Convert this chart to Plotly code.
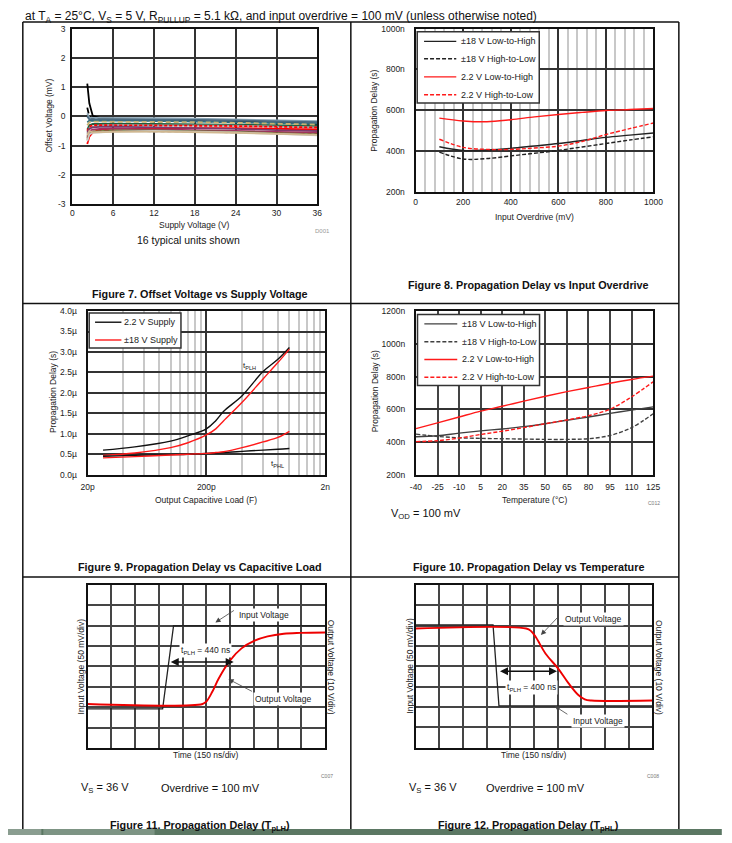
import plotly.graph_objects as go

# The page body keeps an 8 px margin, so the figure is sized to fit inside it;
# reference-pixel coordinates are converted into figure coordinates below.
PAGE_MARGIN = 8
W, H = 732 - 2 * PAGE_MARGIN, 843 - 2 * PAGE_MARGIN
def px(x): return (x - PAGE_MARGIN) / W
def py(y): return 1 - (y - PAGE_MARGIN) / H

FONT = "Liberation Sans, Arial, sans-serif"

# ---------------- Figure 7 data: offset voltage vs supply voltage (16 units)
supply_v = [2.2, 2.5, 3, 4, 6, 12, 18, 24, 30, 36]
unit01 = [1.12, 0.45, 0.02, -0.05, -0.08, -0.10, -0.12, -0.15, -0.18, -0.22]
unit02 = [0.30, 0.00, -0.08, -0.10, -0.12, -0.14, -0.16, -0.18, -0.22, -0.26]
unit03 = [0.10, -0.05, -0.05, -0.05, -0.05, -0.06, -0.08, -0.10, -0.13, -0.16]
unit04 = [-0.20, -0.15, -0.15, -0.14, -0.14, -0.15, -0.17, -0.20, -0.22, -0.25]
unit05 = [-0.45, -0.30, -0.26, -0.25, -0.25, -0.26, -0.27, -0.28, -0.30, -0.33]
unit06 = [-0.30, -0.20, -0.18, -0.18, -0.18, -0.19, -0.20, -0.22, -0.25, -0.28]
unit07 = [-0.60, -0.40, -0.35, -0.32, -0.30, -0.30, -0.30, -0.32, -0.35, -0.38]
unit08 = [-0.95, -0.70, -0.55, -0.45, -0.42, -0.40, -0.40, -0.40, -0.42, -0.45]
unit09 = [-0.50, -0.35, -0.30, -0.30, -0.30, -0.30, -0.32, -0.33, -0.35, -0.38]
unit10 = [-0.55, -0.42, -0.38, -0.36, -0.35, -0.37, -0.40, -0.43, -0.47, -0.50]
unit11 = [-0.70, -0.50, -0.45, -0.43, -0.42, -0.44, -0.47, -0.50, -0.53, -0.56]
unit12 = [-0.80, -0.60, -0.52, -0.50, -0.48, -0.48, -0.50, -0.53, -0.57, -0.62]
unit13 = [-0.75, -0.58, -0.52, -0.50, -0.50, -0.50, -0.52, -0.55, -0.58, -0.60]
unit14 = [-0.85, -0.62, -0.56, -0.54, -0.52, -0.50, -0.52, -0.55, -0.60, -0.65]
unit15 = [-0.65, -0.50, -0.55, -0.55, -0.53, -0.52, -0.53, -0.56, -0.60, -0.63]
unit16 = [0.00, -0.10, -0.10, -0.10, -0.10, -0.11, -0.12, -0.14, -0.17, -0.20]
units = [unit01, unit02, unit03, unit04, unit05, unit06, unit07, unit08,
         unit09, unit10, unit11, unit12, unit13, unit14, unit15, unit16]
unit_colors = ["#000000", "#000000", "#8aa4b4", "#2e6e7e", "#1e6040", "#c8b070",
               "#a0a0a0", "#ff0000", "#ff0000", "#7b3b6b", "#a03060", "#6b7b3b",
               "#8b5a3b", "#c8c8c8", "#d0b890", "#4a6a80"]
unit_dash = ["solid", "6px,3px", "solid", "solid", "solid", "5px,3px", "solid", "solid",
             "3px,2px", "solid", "solid", "solid", "4px,3px", "solid", "solid", "solid"]
f7_xticks = [0, 6, 12, 18, 24, 30, 36]
f7_yticks = [-3, -2, -1, 0, 1, 2, 3]

# ---------------- Figure 8 data: propagation delay vs input overdrive (ns)
overdrive_mv = [100, 200, 300, 400, 500, 600, 700, 800, 900, 1000]
od_18_lh = [420, 402, 404, 412, 424, 436, 451, 466, 477, 488]
od_18_hl = [394, 360, 362, 375, 388, 402, 419, 436, 453, 469]
od_22_lh = [561, 547, 543, 553, 567, 579, 589, 598, 603, 608]
od_22_hl = [457, 417, 407, 407, 414, 423, 446, 480, 509, 537]
f8_xticks = [0, 200, 400, 600, 800, 1000]
f8_yticks = [200, 400, 600, 800, 1000]

# ---------------- Figure 9 data: propagation delay vs capacitive load (us)
cap_load_f = [27e-12, 50e-12, 100e-12, 140e-12, 200e-12, 240e-12, 280e-12,
              400e-12, 600e-12, 800e-12, 1e-9]
cap_22_plh = [0.60, 0.68, 0.82, 0.95, 1.12, 1.32, 1.55, 1.93, 2.52, 2.82, 3.11]
cap_18_plh = [0.47, 0.53, 0.66, 0.78, 0.97, 1.12, 1.32, 1.77, 2.34, 2.74, 3.07]
cap_22_phl = [0.45, 0.47, 0.49, 0.50, 0.52, 0.53, 0.54, 0.57, 0.60, 0.62, 0.64]
cap_18_phl = [0.41, 0.44, 0.48, 0.50, 0.52, 0.54, 0.56, 0.66, 0.80, 0.91, 1.06]
f9_xticks = [2e-11, 2e-10, 2e-9]
f9_xlabels = ["20p", "200p", "2n"]
f9_yticks = [0, 0.5, 1.0, 1.5, 2.0, 2.5, 3.0, 3.5, 4.0]

# ---------------- Figure 10 data: propagation delay vs temperature (ns)
temp_c = [-40, -25, -10, 5, 20, 35, 50, 65, 80, 95, 110, 125]
t_18_lh = [432, 438, 454, 468, 480, 494, 512, 533, 553, 575, 595, 615]
t_18_hl = [448, 434, 426, 422, 420, 418, 416, 416, 420, 440, 488, 573]
t_22_lh = [482, 517, 553, 589, 619, 650, 680, 708, 734, 760, 783, 803]
t_22_hl = [402, 408, 424, 446, 466, 488, 512, 535, 561, 601, 676, 769]
f10_yticks = [200, 400, 600, 800, 1000, 1200]

# ---------------- Figure 11 data (scope divisions)
f11_in_t = [0, 3.16, 3.62, 10]
f11_in_v = [1.92, 1.92, 6.0, 6.0]
f11_out_t = [0, 4.84, 5.0, 5.25, 5.52, 6.0, 6.48, 7.03, 7.58, 8.26, 8.95, 10]
f11_out_v = [2.16, 2.16, 2.28, 2.76, 3.41, 4.30, 4.89, 5.27, 5.48, 5.61, 5.65, 5.67]

# ---------------- Figure 12 data (scope divisions)
f12_in_t = [0, 3.27, 3.52, 10]
f12_in_v = [6.04, 6.04, 2.06, 2.06]
f12_out_t = [0, 4.67, 4.88, 5.08, 5.49, 6.02, 6.46, 6.87, 7.14, 7.42, 10]
f12_out_v = [5.86, 5.86, 5.73, 5.43, 4.62, 3.89, 3.16, 2.59, 2.38, 2.32, 2.32]

legend_names = ["±18 V Low-to-High", "±18 V High-to-Low", "2.2 V Low-to-High", "2.2 V High-to-Low"]
cap_legend_names = ["2.2 V Supply", "±18 V Supply"]

BLK8, BLK10, RED = "#222222", "#404040", "#ff1a1a"
DASH = "4px,2px"
styles_8 = [(BLK8, "solid"), (BLK8, DASH), (RED, "solid"), (RED, DASH)]
styles_10 = [(BLK10, "solid"), (BLK10, DASH), (RED, "solid"), (RED, DASH)]
styles_9 = [("#111111", "solid"), (RED, "solid")]

fig = go.Figure()

# Fig 7 traces
for vals, col, dsh in zip(units, unit_colors, unit_dash):
    fig.add_trace(go.Scatter(x=supply_v, y=vals, mode="lines", xaxis="x", yaxis="y",
                             line=dict(color=col, width=1.8, dash=dsh), showlegend=False))

# Fig 8 traces
for vals, (col, dsh), nm in zip([od_18_lh, od_18_hl, od_22_lh, od_22_hl], styles_8, legend_names):
    fig.add_trace(go.Scatter(x=overdrive_mv, y=vals, mode="lines", name=nm, xaxis="x2", yaxis="y2",
                             line=dict(color=col, width=1.4, dash=dsh, shape="spline"), showlegend=False))

# Fig 9 traces
for vals, (col, dsh), nm in zip([cap_22_plh, cap_18_plh, cap_22_phl, cap_18_phl],
                                styles_9 + styles_9, cap_legend_names + cap_legend_names):
    fig.add_trace(go.Scatter(x=cap_load_f, y=vals, mode="lines", name=nm, xaxis="x3", yaxis="y3",
                             line=dict(color=col, width=1.4, shape="spline"), showlegend=False))

# Fig 10 traces
for vals, (col, dsh), nm in zip([t_18_lh, t_18_hl, t_22_lh, t_22_hl], styles_10, legend_names):
    fig.add_trace(go.Scatter(x=temp_c, y=vals, mode="lines", name=nm, xaxis="x4", yaxis="y4",
                             line=dict(color=col, width=1.4, dash=dsh, shape="spline"), showlegend=False))

# Fig 11 traces
fig.add_trace(go.Scatter(x=f11_in_t, y=f11_in_v, mode="lines", xaxis="x5", yaxis="y5", showlegend=False,
                         line=dict(color="#222222", width=1.3)))
fig.add_trace(go.Scatter(x=f11_out_t, y=f11_out_v, mode="lines", xaxis="x5", yaxis="y5", showlegend=False,
                         line=dict(color="#ee0000", width=1.9, shape="spline")))
# Fig 12 traces
fig.add_trace(go.Scatter(x=f12_in_t, y=f12_in_v, mode="lines", xaxis="x6", yaxis="y6", showlegend=False,
                         line=dict(color="#222222", width=1.3)))
fig.add_trace(go.Scatter(x=f12_out_t, y=f12_out_v, mode="lines", xaxis="x6", yaxis="y6", showlegend=False,
                         line=dict(color="#ee0000", width=1.9, shape="spline")))

TICKF = dict(family=FONT, size=8.5, color="#222")

def axis(dom, **kw):
    d = dict(domain=dom, showline=True, mirror=True, linecolor="#111", linewidth=2,
             showgrid=True, gridcolor="#333", gridwidth=1.5, zeroline=False, ticks="",
             tickfont=TICKF, fixedrange=True)
    d.update(kw)
    return d

def xd(a, b): return [px(a), px(b)]
def yd(top, bot): return [py(bot), py(top)]

SCOPE_GRID = "#454545"
layout = dict(
    width=W, height=H, margin=dict(l=0, r=0, t=0, b=0),
    paper_bgcolor="white", plot_bgcolor="white", showlegend=False,
    font=dict(family=FONT, color="#222"),
    # Fig 7
    xaxis=axis(xd(66.7, 317.7), anchor="y", range=[0, 36], tickvals=f7_xticks,
               ticktext=[str(v) for v in f7_xticks], ticklabelstandoff=0),
    yaxis=axis(yd(24, 201.3), anchor="x", range=[-3, 3], tickvals=f7_yticks,
               ticktext=[str(v) for v in f7_yticks], ticklabelstandoff=3),
    # Fig 8
    xaxis2=axis(xd(418.3, 662), anchor="y2", range=[0, 1000], tickvals=f8_xticks,
                ticktext=[str(v) for v in f8_xticks], ticklabelstandoff=1,
                minor=dict(tickvals=[v for v in range(40, 1000, 40) if v % 200],
                           showgrid=True, gridcolor="#c8c8c8", gridwidth=1.5)),
    yaxis2=axis(yd(24, 188.7), anchor="x2", range=[200, 1000], tickvals=f8_yticks,
                ticktext=["%dn" % v for v in f8_yticks], ticklabelstandoff=7),
    # Fig 9
    xaxis3=axis(xd(82.3, 325.7), anchor="y3", type="log", range=[-10.69897, -8.69897],
                tickvals=f9_xticks, ticktext=f9_xlabels, ticklabelstandoff=3,
                minor=dict(tickvals=[4e-11, 6e-11, 8e-11, 1e-10, 1.2e-10, 1.4e-10, 1.6e-10, 1.8e-10,
                                     4e-10, 6e-10, 8e-10, 1e-9, 1.2e-9, 1.4e-9, 1.6e-9, 1.8e-9],
                           showgrid=True, gridcolor="#c8c8c8", gridwidth=1.5)),
    yaxis3=axis(yd(309.7, 475.3), anchor="x3", range=[0, 4], tickvals=f9_yticks,
                ticktext=["%.1fµ" % v for v in f9_yticks], ticklabelstandoff=7),
    # Fig 10
    xaxis4=axis(xd(418.7, 661.7), anchor="y4", range=[-40, 125], tickvals=temp_c,
                ticktext=[str(v) for v in temp_c], ticklabelstandoff=3, gridcolor="#444"),
    yaxis4=axis(yd(310, 475.3), anchor="x4", range=[200, 1200], tickvals=f10_yticks,
                ticktext=["%dn" % v for v in f10_yticks], ticklabelstandoff=7),
    # Fig 11
    xaxis5=axis(xd(82.3, 325.7), anchor="y5", range=[0, 10], dtick=1, tick0=0, showticklabels=False,
                gridcolor=SCOPE_GRID),
    yaxis5=axis(yd(587, 752), anchor="x5", range=[0, 8], dtick=1, tick0=0, showticklabels=False,
                gridcolor=SCOPE_GRID),
    # Fig 12
    xaxis6=axis(xd(418.3, 661), anchor="y6", range=[0, 10], dtick=1, tick0=0, showticklabels=False,
                gridcolor=SCOPE_GRID),
    yaxis6=axis(yd(587, 751.7), anchor="x6", range=[0, 8], dtick=1, tick0=0, showticklabels=False,
                gridcolor=SCOPE_GRID),
)
fig.update_layout(**layout)

ann = []
shapes = []

def txt(x, y, s, size=8.5, color="#222", bold=False, angle=0, xanchor="center", bg=None):
    d = dict(x=px(x), y=py(y), xref="paper", yref="paper", text=("<b>%s</b>" % s) if bold else s,
             showarrow=False, xanchor=xanchor, yanchor="middle", textangle=angle,
             font=dict(family=FONT, size=size, color=color))
    if bg:
        d["bgcolor"] = bg
        d["borderpad"] = 1
    ann.append(d)

def line(x0, y0, x1, y1, w=1.5, c="#111", dash="solid"):
    shapes.append(dict(type="line", xref="paper", yref="paper", x0=px(x0), y0=py(y0), x1=px(x1), y1=py(y1),
                       line=dict(color=c, width=w, dash=dash), layer="above"))

def rect(x0, y0, x1, y1, c, border=None):
    shapes.append(dict(type="rect", xref="paper", yref="paper", x0=px(x0), y0=py(y0), x1=px(x1), y1=py(y1),
                       line=dict(width=1.5 if border else 0, color=border or c), fillcolor=c, layer="above"))

# legend boxes (drawn as page furniture: box, key line, label)
def legend_box(box, rows, key_x, text_x, names, styles):
    x0, y0, x1, y1 = box
    rect(x0, y0, x1, y1, "white", border="#333")
    for yr, nm, (col, dsh) in zip(rows, names, styles):
        line(key_x[0], yr, key_x[1], yr, w=1.4, c=col, dash=dsh)
        txt(text_x, yr, nm, size=9, xanchor="left")

legend_box((420, 27, 545, 99), [36.7, 54.3, 72.7, 90.7], (427, 460), 463, legend_names, styles_8)
legend_box((84, 311.7, 178, 347), [321, 339], (90, 117), 118, cap_legend_names, styles_9)
legend_box((420.3, 313.3, 545.3, 385), [322.7, 340.7, 358.7, 376.7], (427.3, 461), 463.5,
           legend_names, styles_10)

# header
txt(16, 12.2, "at T<sub>A</sub> = 25°C, V<sub>S</sub> = 5 V, R<sub>PULLUP</sub> = 5.1 kΩ, and input overdrive = 100 mV (unless otherwise noted)",
    size=12, color="#111", xanchor="left")
CAP = 10.8
# Fig 7 texts
txt(192, 223, "Supply Voltage (V)")
txt(42.7, 112, "Offset Voltage (mV)", angle=-90)
txt(323, 229, "D001", size=6, color="#999")
txt(186, 238, "16 typical units shown", size=10.5, color="#111")
txt(197.5, 292, "Figure 7. Offset Voltage vs Supply Voltage", size=CAP, bold=True, color="#111")
# Fig 8
txt(540, 214.7, "Input Overdrive (mV)")
txt(375.7, 107, "Propagation Delay (s)", angle=-90)
txt(533.5, 283, "Figure 8. Propagation Delay vs Input Overdrive", size=CAP, bold=True, color="#111")
# Fig 9
txt(203.5, 501, "Output Capacitive Load (F)")
txt(47.7, 392, "Propagation Delay (s)", angle=-90)
txt(248, 365, "t<sub>PLH</sub>", size=8)
txt(277, 465, "t<sub>PHL</sub>", size=8)
txt(197.8, 569, "Figure 9. Propagation Delay vs Capacitive Load", size=CAP, bold=True, color="#111")
# Fig 10
txt(540.3, 501, "Temperature (°C)")
txt(376.7, 391, "Propagation Delay (s)", angle=-90)
txt(663, 504, "C012", size=5, color="#777")
txt(391, 515, "V<sub>OD</sub> = 100 mV", size=11, color="#111", xanchor="left")
txt(533.7, 569, "Figure 10. Propagation Delay vs Temperature", size=CAP, bold=True, color="#111")
# Fig 11
txt(204, 759, "Time (150 ns/div)")
txt(76, 669, "Input Voltage (50 mV/div)", angle=-90)
txt(332, 670, "Output Voltage (10 V/div)", angle=90)
txt(263.5, 617, "Input Voltage", bg="white")
txt(283, 702, "Output Voltage", bg="white")
txt(203, 653, "t<sub>PLH</sub> = 440 ns", bg="white")
txt(328, 780, "C007", size=5, color="#777")
txt(74, 792, "V<sub>S</sub> = 36 V", size=11, color="#111", xanchor="left")
txt(155, 792, "Overdrive = 100 mV", size=11, color="#111", xanchor="left")
txt(198, 831, "Figure 11. Propagation Delay (T<sub>pLH</sub>)", size=CAP, bold=True, color="#111")
# Fig 12
txt(540, 759, "Time (150 ns/div)")
txt(412.3, 669, "Input Voltage (50 mV/div)", angle=-90)
txt(667.7, 670, "Output Voltage (10 V/div)", angle=90)
txt(601, 621.7, "Output Voltage", bg="white")
txt(605, 725, "Input Voltage", bg="white")
txt(537.5, 690.7, "t<sub>PLH</sub> = 400 ns", bg="white")
txt(662, 780, "C008", size=5, color="#777")
txt(410, 792, "V<sub>S</sub> = 36 V", size=11, color="#111", xanchor="left")
txt(488, 792, "Overdrive = 100 mV", size=11, color="#111", xanchor="left")
txt(533.8, 831, "Figure 12. Propagation Delay (T<sub>pHL</sub>)", size=CAP, bold=True, color="#111")

# pointer arrows
def pointer(xa, ya, x, y, ax, ay):
    ann.append(dict(x=x, y=y, xref=xa, yref=ya, ax=ax, ay=ay, text="", showarrow=True,
                    arrowhead=2, arrowsize=1.3, arrowwidth=0.8, arrowcolor="#444"))
pointer("x5", "y5", 5.38, 6.16, 20, -13)
pointer("x5", "y5", 5.93, 3.38, 25, 13)
pointer("x6", "y6", 5.29, 5.54, 19, -20)
pointer("x6", "y6", 5.88, 2.04, 14, 9)

# double-headed delay arrows
def dbl(xa, ya, x0, x1, y):
    ann.append(dict(x=x1, y=y, xref=xa, yref=ya, ax=x0, ay=y, axref=xa, ayref=ya, text="",
                    showarrow=True, arrowhead=2, startarrowhead=2, arrowside="end+start",
                    arrowsize=1, startarrowsize=1, arrowwidth=1.6, arrowcolor="#111"))
dbl("x5", "y5", 3.44, 6.15, 4.22)
dbl("x6", "y6", 3.50, 5.97, 3.76)

# page table frame
line(16, 17, 688, 17)
line(16, 302, 688, 302)
line(16, 579, 688, 579)
line(16, 17, 16, 843)
line(352, 17, 352, 843)
line(688, 17, 688, 843)
# bottom bar
rect(0, 834, 732, 843, "#5b7763")
rect(0, 834, 35, 843, "#8a9d90")
rect(37, 834, 151, 843, "#7d9484")

fig.update_layout(annotations=ann, shapes=shapes)

fig.write_html("out.html", config={"displayModeBar": False})
